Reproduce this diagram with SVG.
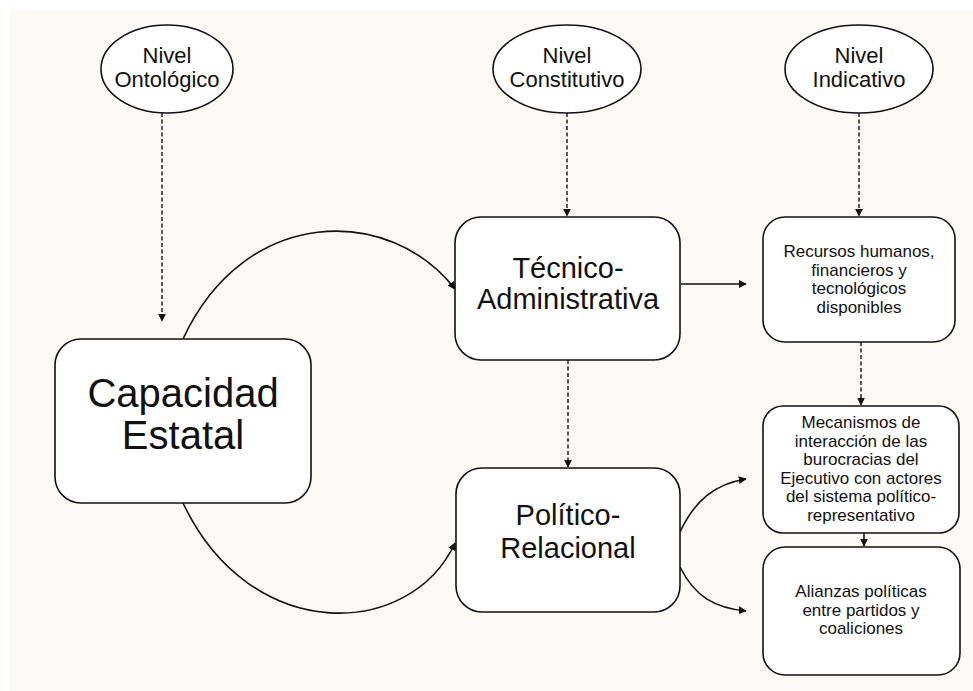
<svg xmlns="http://www.w3.org/2000/svg" width="973" height="691" viewBox="0 0 973 691">
<defs>
<style>
.node{fill:#fff;stroke:#111;stroke-width:1.6}
.t{font-family:"Liberation Sans",Arial,sans-serif;fill:#111;text-anchor:middle}
.s{font-size:17px}
.e{font-size:22px}
.c{fill:none;stroke:#111;stroke-width:1.6}
.d{fill:none;stroke:#222;stroke-width:1.5;stroke-dasharray:4 2.5}
</style>
<marker id="ah" viewBox="0 0 10 10" refX="9" refY="5" markerWidth="8" markerHeight="8" markerUnits="userSpaceOnUse" orient="auto">
<path d="M0,0 L10,5 L0,10 z" fill="#111"/>
</marker>
</defs>
<rect x="0" y="0" width="973" height="691" fill="#fff"/>
<rect x="10" y="10" width="963" height="681" fill="#fdf9f6"/>

<g id="connectors">
<path class="d" d="M162,113 V321" marker-end="url(#ah)"/>
<path class="d" d="M567,113 V216" marker-end="url(#ah)"/>
<path class="d" d="M859,113 V216" marker-end="url(#ah)"/>
<path class="d" d="M568,360 V467" marker-end="url(#ah)"/>
<path class="d" d="M861,342 V405" marker-end="url(#ah)"/>
<path class="c" d="M864,533 V546" marker-end="url(#ah)"/>
<path class="c" d="M681,284 H746" marker-end="url(#ah)"/>
<path class="c" d="M183,339 C245,205 390,205 455,289" marker-end="url(#ah)"/>
<path class="c" d="M183,503 C250,645 410,640 455,543" marker-end="url(#ah)"/>
<path class="c" d="M680,532 C695,500 715,484 746,479" marker-end="url(#ah)"/>
<path class="c" d="M680,567 C695,597 715,608 746,611" marker-end="url(#ah)"/>
</g>

<g id="nivel-ontologico">
<ellipse class="node" cx="167" cy="69" rx="66" ry="44"/>
<text class="t e" x="167" y="63">Nivel</text>
<text class="t e" x="167" y="87">Ontológico</text>
</g>
<g id="nivel-constitutivo">
<ellipse class="node" cx="567" cy="69" rx="74" ry="44"/>
<text class="t e" x="567" y="63">Nivel</text>
<text class="t e" x="567" y="87">Constitutivo</text>
</g>
<g id="nivel-indicativo">
<ellipse class="node" cx="859" cy="69" rx="74" ry="44"/>
<text class="t e" x="859" y="63">Nivel</text>
<text class="t e" x="859" y="87">Indicativo</text>
</g>

<g id="capacidad-estatal">
<rect class="node" x="55" y="339" width="256" height="164" rx="26"/>
<text class="t" font-size="40" x="183" y="407">Capacidad</text>
<text class="t" font-size="40" x="183" y="449">Estatal</text>
</g>
<g id="tecnico-administrativa">
<rect class="node" x="455" y="217" width="225" height="143" rx="26"/>
<text class="t" font-size="29" x="568" y="278">Técnico-</text>
<text class="t" font-size="29" x="568" y="309">Administrativa</text>
</g>
<g id="politico-relacional">
<rect class="node" x="456" y="468" width="224" height="144" rx="26"/>
<text class="t" font-size="29" x="568" y="525">Político-</text>
<text class="t" font-size="29" x="568" y="558">Relacional</text>
</g>
<g id="recursos">
<rect class="node" x="763" y="217" width="192" height="125" rx="22"/>
<text class="t s" x="859" y="257">Recursos humanos,</text>
<text class="t s" x="859" y="275.5">financieros y</text>
<text class="t s" x="859" y="294">tecnológicos</text>
<text class="t s" x="859" y="312.5">disponibles</text>
</g>
<g id="mecanismos">
<rect class="node" x="763" y="406" width="196" height="127" rx="20"/>
<text class="t s" x="861" y="428">Mecanismos de</text>
<text class="t s" x="861" y="446.5">interacción de las</text>
<text class="t s" x="861" y="465">burocracias del</text>
<text class="t s" x="861" y="483.5">Ejecutivo con actores</text>
<text class="t s" x="861" y="502">del sistema político-</text>
<text class="t s" x="861" y="520.5">representativo</text>
</g>
<g id="alianzas">
<rect class="node" x="763" y="547" width="197" height="128" rx="22"/>
<text class="t s" x="861" y="597">Alianzas políticas</text>
<text class="t s" x="861" y="615.5">entre partidos y</text>
<text class="t s" x="861" y="634">coaliciones</text>
</g>
</svg>
